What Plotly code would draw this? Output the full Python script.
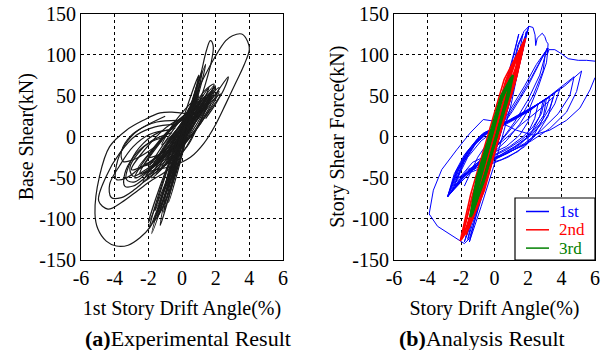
import plotly.graph_objects as go

# ---------------- DATA ----------------
x_ticks = [-6, -4, -2, 0, 2, 4, 6]
x_tick_labels = ["-6", "-4", "-2", "0", "2", "4", "6"]
y_ticks = [-150, -100, -50, 0, 50, 100, 150]
y_tick_labels = ["-150", "-100", "-50", "0", "50", "100", "150"]
legend_labels = ["1st", "2nd", "3rd"]

exp_big_pos = [(-2.3, -44), (-1.5, -40), (-0.5, -35), (0.5, -25), (1.3, -8), (2.0, 15), (2.6, 40),
               (3.2, 66), (3.7, 88), (4.0, 106), (3.9, 116), (3.55, 125), (3.0, 123), (2.6, 117),
               (1.9, 95), (1.3, 72), (0.6, 42), (0.0, 18), (-0.8, -5)]
exp_big_neg = [(0.3, 28), (-0.6, 30), (-1.3, 29), (-2.3, 20), (-3.3, 8), (-4.3, -12), (-4.9, -48),
               (-5.17, -93), (-5.0, -112), (-4.5, -127), (-3.9, -133), (-3.2, -132), (-2.5, -123),
               (-1.9, -110), (-1.3, -85), (-0.8, -60), (-0.2, -30)]
exp_peak = [[(0.6, 40), (1.1, 75), (1.45, 105), (1.68, 117), (1.85, 111), (1.75, 92), (1.5, 72),
             (1.2, 52), (0.8, 32)],
            [(1.2, 30), (2.0, 52), (2.75, 73), (2.5, 58), (2.0, 40), (1.4, 22)],
            [(0.9, 30), (1.6, 48), (2.2, 60), (1.9, 45), (1.3, 30)],
            [(0.7, 35), (1.3, 55), (1.9, 64), (1.6, 50), (1.0, 35)]]
exp_neg = [
    [(-0.5, 15), (-1.6, 12), (-2.7, 2), (-3.7, -20), (-4.5, -48), (-4.95, -78), (-4.4, -88),
     (-3.6, -80), (-2.6, -65), (-1.8, -53), (-1.0, -43), (-0.3, -30)],
    [(-0.8, 8), (-1.9, 3), (-2.9, -12), (-3.7, -35), (-4.3, -58), (-4.2, -74), (-3.6, -74),
     (-2.8, -64), (-2.0, -50), (-1.2, -38)],
    [(-1.0, 0), (-2.0, -8), (-2.9, -25), (-3.4, -45), (-3.4, -60), (-2.9, -60), (-2.2, -50),
     (-1.4, -35), (-0.8, -22)],
    [(-0.3, 20), (-1.5, 18), (-2.6, 8), (-3.4, -10), (-3.9, -35), (-3.9, -52), (-3.3, -50),
     (-2.6, -40), (-1.7, -28), (-0.8, -12)],
    [(-0.6, 5), (-1.8, -5), (-2.6, -20), (-3.1, -38), (-2.9, -48), (-2.3, -42), (-1.6, -32),
     (-0.9, -18)],
    [(-1.0, 25), (-2.0, 15), (-3.0, 2), (-3.6, -18), (-3.5, -30), (-2.9, -28), (-2.0, -18),
     (-1.2, -5)],
    [(-0.4, 10), (-1.4, 5), (-2.3, -8), (-3.0, -28), (-3.3, -52), (-2.8, -55), (-2.0, -42),
     (-1.1, -28)],
]
exp_core = [
    [(-2.0, -40), (-0.8, 0), (0.3, 30), (1.5, 50), (0.4, 10), (-0.8, -20), (-2.0, -40)],
    [(-1.5, -30), (-0.4, 6), (0.7, 35), (1.8, 55), (0.7, 19), (-0.4, -10), (-1.5, -30)],
    [(-2.5, -45), (-1.3, -5), (0.0, 24), (1.2, 40), (0.0, 0), (-1.3, -29), (-2.5, -45)],
    [(-1.0, -25), (0.0, 9), (1.0, 36), (2.0, 58), (1.0, 24), (0.0, -3), (-1.0, -25)],
    [(-2.2, -35), (-1.1, -2), (-0.1, 22), (1.0, 35), (-0.1, 2), (-1.1, -22), (-2.2, -35)],
    [(-1.8, -50), (-0.7, -8), (0.5, 23), (1.6, 45), (0.5, 3), (-0.7, -28), (-1.8, -50)],
    [(-1.2, -38), (-0.1, 1), (1.1, 32), (2.2, 55), (1.1, 16), (-0.1, -15), (-1.2, -38)],
    [(-2.8, -50), (-1.6, -11), (-0.4, 15), (0.8, 30), (-0.4, -9), (-1.6, -35), (-2.8, -50)],
    [(-0.8, -20), (-0.1, 9), (0.7, 31), (1.4, 48), (0.7, 19), (-0.1, -3), (-0.8, -20)],
    [(-2.0, -25), (-0.9, 3), (0.1, 22), (1.2, 30), (0.1, 2), (-0.9, -17), (-2.0, -25)],
    [(-1.5, -45), (-0.4, -1), (0.8, 34), (1.9, 62), (0.8, 18), (-0.4, -17), (-1.5, -45)],
    [(-3.0, -40), (-1.8, -6), (-0.7, 15), (0.5, 25), (-0.7, -9), (-1.8, -30), (-3.0, -40)],
    [(-1.0, -35), (-0.3, -2), (0.3, 23), (1.0, 40), (0.3, 7), (-0.3, -18), (-1.0, -35)],
    [(-2.3, -55), (-1.0, -13), (0.4, 18), (1.7, 40), (0.4, -2), (-1.0, -33), (-2.3, -55)],
    [(-0.5, -15), (0.3, 16), (1.2, 41), (2.0, 62), (1.2, 31), (0.3, 5), (-0.5, -15)],
    [(-0.3, -10), (0.3, 18), (1.0, 42), (1.6, 60), (1.0, 32), (0.3, 8), (-0.3, -10)],
    [(-0.6, -20), (0.4, 10), (1.3, 34), (2.3, 52), (1.3, 22), (0.4, -2), (-0.6, -20)],
    [(-1.2, -10), (-0.5, 16), (0.3, 36), (1.0, 50), (0.3, 24), (-0.5, 4), (-1.2, -10)],
    [(-1.7, -35), (-0.8, -6), (0.2, 20), (1.3, 44), (0.2, 6), (-0.8, -18), (-1.7, -35)],
    [(-0.9, -28), (-0.2, -4), (0.6, 22), (1.5, 42), (0.6, 12), (-0.2, -12), (-0.9, -28)],
    [(-2.6, -38), (-1.5, -10), (-0.5, 12), (0.6, 28), (-0.5, 0), (-1.5, -24), (-2.6, -38)],
    [(-1.3, -20), (-0.5, 4), (0.4, 26), (1.1, 44), (0.4, 14), (-0.5, -8), (-1.3, -20)],
    [(-0.7, -32), (0.0, -10), (0.8, 18), (1.7, 48), (0.8, 8), (0.0, -20), (-0.7, -32)],
    [(-2.1, -48), (-1.1, -20), (-0.1, 8), (0.9, 32), (-0.1, -4), (-1.1, -32), (-2.1, -48)],
    [(-1.4, -28), (-0.6, -2), (0.3, 20), (1.2, 38), (0.3, 10), (-0.6, -14), (-1.4, -28)],
    [(-0.4, -25), (0.3, -2), (1.0, 25), (1.8, 50), (1.0, 15), (0.3, -12), (-0.4, -25)],
]
exp_steep = [
    [(0.8, 50), (-0.2, -4), (-1.2, -58), (-1.95, -112), (-0.9, -58), (0.1, -4), (0.8, 50)],
    [(0.6, 40), (-0.2, -7), (-0.9, -53), (-1.5, -100), (-0.7, -53), (0.0, -7), (0.6, 40)],
    [(1.0, 60), (0.2, 9), (-0.5, -41), (-1.1, -92), (-0.3, -41), (0.4, 9), (1.0, 60)],
    [(0.5, 30), (-0.45, -15), (-1.3, -60), (-2.0, -105), (-1.05, -60), (-0.2, -15), (0.5, 30)],
    [(0.9, 55), (-0.05, 7), (-0.9, -42), (-1.6, -90), (-0.65, -42), (0.2, 7), (0.9, 55)],
    [(0.7, 45), (0.1, 3), (-0.4, -38), (-0.8, -80), (-0.2, -38), (0.3, 3), (0.7, 45)],
    [(0.4, 35), (-0.3, -13), (-0.85, -60), (-1.3, -108), (-0.6, -60), (-0.05, -13), (0.4, 35)],
    [(1.2, 80), (0.5, 37), (-0.05, -7), (-0.5, -50), (0.15, -7), (0.75, 37), (1.2, 80)],
    [(1.4, 88), (0.6, 43), (-0.1, -1), (-0.7, -45), (0.0, -1), (0.85, 43), (1.4, 88)],
    [(1.0, 75), (0.2, 30), (-0.45, -15), (-1.0, -60), (-0.25, -15), (0.45, 30), (1.0, 75)],
    [(0.3, 20), (-0.5, -26), (-1.2, -72), (-1.8, -118), (-1.0, -72), (-0.3, -26), (0.3, 20)],
    [(0.6, 38), (-0.1, -8), (-0.8, -55), (-1.4, -96), (-0.55, -55), (0.1, -8), (0.6, 38)],
    [(1.1, 68), (0.3, 22), (-0.35, -20), (-0.95, -70), (-0.15, -20), (0.5, 22), (1.1, 68)],
    [(0.2, 15), (-0.6, -32), (-1.25, -78), (-1.7, -104), (-0.95, -78), (-0.35, -32), (0.2, 15)],
]

# (b) Analysis result: story drift angle (%) vs story shear force (kN)
ana_1st_paths = [
    [(0.0, 0), (0.6, 45), (1.1, 85), (1.45, 112), (1.75, 128), (2.05, 134.5), (2.3, 133),
     (2.42, 124), (2.46, 111), (2.55, 120), (2.7, 123), (2.85, 126), (3.0, 122), (3.1, 116),
     (3.2, 113), (3.15, 100), (3.25, 106), (3.6, 106), (4.0, 101), (4.4, 95), (5.0, 93),
     (5.5, 93), (6.0, 92)],
    [(6.0, 72), (5.7, 57), (5.1, 35), (4.3, 20), (3.3, 8), (2.3, 2), (1.3, 8), (0.3, 18),
     (-0.67, 21), (-1.46, 4.5), (-2.26, -16), (-3.15, -40), (-3.65, -65), (-3.9, -94),
     (-3.4, -109), (-2.8, -117), (-2.2, -124), (-1.8, -130), (-1.5, -124), (-1.2, -104),
     (-0.6, -62), (0.0, -22), (0.6, 20), (1.2, 62), (1.6, 98), (2.0, 130)],
    [(-1.8, -128), (-1.0, -75), (0.0, -10), (1.0, 62), (1.6, 110), (2.05, 134), (1.5, 95),
     (0.6, 30), (-0.4, -40), (-1.2, -95), (-1.8, -128)],
    [(-1.6, -125), (-0.9, -80), (0.1, -15), (0.9, 45), (1.3, 85), (1.7, 125), (1.4, 112),
     (0.8, 60), (-0.2, -10), (-1.0, -70), (-1.6, -125)],
    [(-1.7, -122), (-1.05, -78), (-0.2, -15), (0.6, 45), (1.1, 95), (1.45, 125), (1.2, 105),
     (0.4, 45), (-0.4, -15), (-1.2, -75), (-1.7, -122)],
    [(-1.5, -128), (-0.8, -85), (0.2, -20), (1.0, 40), (1.5, 90), (1.9, 128), (1.7, 105),
     (1.1, 55), (0.0, -20), (-0.9, -80), (-1.5, -128)],
    [(-1.8, -60), (-1.0, -25), (0.0, 5), (0.8, 25), (1.5, 48), (2.2, 72), (2.8, 95), (3.2, 108),
     (3.1, 90), (2.6, 60), (2.1, 35), (1.5, 15), (0.7, -5), (-0.2, -22), (-1.0, -35)],
    [(-1.2, -40), (0.0, 0), (1.0, 35), (1.8, 62), (2.5, 88), (3.05, 104), (2.9, 80), (2.3, 50),
     (1.6, 25), (0.6, 0), (-0.5, -25)],
    [(-0.8, -30), (0.2, 5), (1.1, 32), (2.0, 62), (2.7, 90), (3.15, 108), (2.7, 75), (2.0, 45),
     (1.2, 18), (0.2, -10)],
    [(-2.8, -73), (-2.4, -45), (-1.8, -22), (-1.0, -2), (0.0, 10), (1.5, 25), (3.0, 45),
     (4.2, 62), (5.2, 80), (4.9, 55), (4.3, 30), (3.3, 10), (2.2, -5), (1.0, -18), (0.0, -28),
     (-1.0, -33), (-2.0, -52), (-2.8, -73)],
    [(-2.8, -73), (-2.3, -42), (-1.6, -18), (-0.8, 2), (0.2, 12), (1.5, 25), (3.0, 45),
     (4.75, 73), (4.5, 50), (3.8, 28), (2.8, 8), (1.8, -8), (0.8, -20), (-0.2, -29),
     (-1.2, -36), (-2.1, -54), (-2.8, -73)],
    [(-2.8, -73), (-2.2, -40), (-1.5, -15), (-0.7, 4), (0.3, 14), (1.5, 26), (2.6, 40), (3.6, 53),
     (3.3, 35), (2.7, 15), (2.0, 0), (1.2, -12), (0.2, -24), (-0.9, -32), (-1.9, -50), (-2.8, -73)],
    [(-2.6, -68), (-2.1, -38), (-1.4, -13), (-0.6, 5), (0.4, 14), (1.5, 27), (2.5, 38), (3.3, 48),
     (3.0, 28), (2.4, 10), (1.6, -4), (0.7, -16), (-0.4, -27), (-1.5, -40), (-2.6, -68)],
    [(-2.7, -70), (-2.2, -42), (-1.6, -20), (-0.9, -2), (0.0, 10), (1.2, 22), (2.2, 34), (3.0, 45),
     (2.8, 28), (2.3, 12), (1.7, 0), (0.9, -12), (0.0, -22), (-1.2, -34), (-2.7, -70)],
    [(-2.5, -65), (-2.0, -36), (-1.3, -12), (-0.5, 5), (0.4, 15), (1.5, 28), (2.6, 40), (2.4, 22),
     (2.0, 5), (2.0, -8), (1.3, -15), (0.3, -24), (-0.8, -31), (-2.5, -65)],
    [(-2.3, -55), (-1.8, -30), (-1.1, -8), (-0.2, 8), (0.9, 20), (2.2, 35), (2.0, 18), (1.5, 2),
     (0.7, -12), (-0.3, -22), (-1.3, -31), (-2.3, -55)],
    [(-2.8, -73), (-2.3, -44), (-1.7, -20), (-0.9, 0), (0.2, 12), (1.6, 26), (2.8, 42), (3.9, 58),
     (3.6, 40), (3.0, 20), (2.2, 2), (1.4, -10), (0.4, -22), (-0.7, -30), (-1.8, -48), (-2.8, -73)],
    [(-2.8, -73), (-2.0, -50), (-1.2, -35), (-0.4, -20), (0.5, -5), (1.6, 15), (2.8, 35),
     (3.5, 48), (3.2, 25), (2.6, 5), (1.8, -12), (0.8, -25), (-0.3, -34), (-1.5, -44), (-2.8, -73)],
    [(-2.4, -60), (-1.9, -33), (-1.2, -10), (-0.3, 8), (0.8, 18), (2.0, 30), (2.9, 44), (2.7, 25),
     (2.2, 5), (1.5, -10), (0.5, -22), (-0.6, -30), (-1.6, -40), (-2.4, -60)],
    [(-2.2, -50), (-1.6, -25), (-0.8, -5), (0.2, 10), (1.3, 22), (2.5, 38), (3.1, 47), (2.9, 22),
     (2.3, 0), (1.4, -18), (0.4, -28), (-0.8, -35), (-2.2, -50)],
]
ana_2nd_paths = [
    [(-2.05, -127), (-1.42, -70), (-0.42, 0), (0.58, 70), (1.86, 120), (1.28, 70), (0.28, 0),
     (-0.72, -70), (-2.05, -127)],
    [(-1.95, -124), (-1.3, -70), (-0.3, 0), (0.7, 70), (1.75, 116), (1.2, 70), (0.2, 0),
     (-0.8, -70), (-1.95, -124)],
    [(-1.8, -118), (-1.45, -95), (-1.2, -70), (-0.2, 0), (0.8, 70), (1.6, 110), (1.1, 70),
     (0.1, 0), (-0.9, -70), (-1.8, -118)],
    [(-1.6, -112), (-1.0, -70), (-0.1, 0), (0.9, 70), (1.5, 105), (1.3, 85), (1.0, 70),
     (0.0, 0), (-0.95, -65), (-1.6, -112)],
    [(-2.0, -126), (-1.35, -75), (-0.35, -5), (0.65, 65), (1.8, 118), (1.35, 75), (0.35, 5),
     (-0.6, -65), (-1.5, -110), (-2.0, -126)],
    [(-1.7, -120), (-0.95, -72), (0.05, -2), (1.0, 65), (1.7, 112), (1.05, 62), (0.0, -8),
     (-1.0, -80), (-1.7, -120)],
]
ana_3rd_paths = [
    [(-1.45, -98), (-1.05, -50), (-0.32, 0), (0.4, 50), (1.1, 75), (0.85, 50), (0.12, 0),
     (-0.6, -50), (-1.45, -98)],
    [(-1.35, -95), (-0.95, -50), (-0.25, 0), (0.45, 50), (1.05, 72), (0.8, 50), (0.1, 0),
     (-0.62, -50), (-1.35, -95)],
    [(-1.2, -85), (-0.9, -55), (-0.2, -2), (0.5, 50), (0.95, 68), (0.7, 45), (0.05, -5),
     (-0.65, -55), (-1.2, -85)],
    [(-1.4, -97), (-1.0, -60), (-0.3, -8), (0.35, 42), (1.0, 72), (0.9, 60), (0.2, 8),
     (-0.5, -42), (-1.4, -97)],
]

# ---------------- STYLE ----------------
FONT = "Liberation Serif"
BLUE, RED, GREEN = "#0000ff", "#ff0000", "#008000"
W, H = 613, 350


def fx(px):  # window pixel -> paper x
    return px / W


def fy(py):  # window pixel -> paper y
    return 1 - py / H


def join(loops):
    xs, ys = [], []
    for lp in loops:
        for px, py in lp:
            xs.append(px)
            ys.append(py)
        xs.append(None)
        ys.append(None)
    return xs, ys


fig = go.Figure()

exp_groups = [exp_core, exp_steep, exp_neg, exp_peak, [exp_big_pos], [exp_big_neg]]
for grp in exp_groups:
    gx, gy = join(grp)
    fig.add_trace(go.Scatter(x=gx, y=gy, mode="lines", xaxis="x", yaxis="y",
                             line=dict(color="#1a1a1a", width=1.2, shape="spline", smoothing=1.0),
                             hoverinfo="skip", showlegend=False))

for paths, col, wd in [(ana_1st_paths, BLUE, 1), (ana_2nd_paths, RED, 1.6), (ana_3rd_paths, GREEN, 2.4)]:
    gx, gy = join(paths)
    fig.add_trace(go.Scatter(x=gx, y=gy, mode="lines", xaxis="x2", yaxis="y2",
                             line=dict(color=col, width=wd), hoverinfo="skip", showlegend=False))

axis_common = dict(showgrid=True, gridcolor="black", griddash="dot", gridwidth=1,
                   showline=True, linecolor="black", linewidth=1.2, mirror=True,
                   zeroline=False, ticks="", automargin=False, ticklabeloverflow="allow",
                   tickfont=dict(family=FONT, size=20, color="black"))
xax = dict(range=[-6, 6], tickmode="array", tickvals=x_ticks, ticktext=x_tick_labels, **axis_common)
yax = dict(range=[-150, 150], tickmode="array", tickvals=y_ticks, ticktext=y_tick_labels, **axis_common)

xdom1 = [fx(81), fx(283)]
xdom2 = [fx(394), fx(595)]
ydom = [fy(260), fy(13.5)]
tfont = dict(family=FONT, size=20, color="black")

fig.update_layout(
    width=W, height=H, margin=dict(l=0, r=0, t=0, b=0),
    paper_bgcolor="white", plot_bgcolor="white",
    xaxis=dict(domain=xdom1, anchor="y",
               title=dict(text="1st Story Drift Angle(%)", font=tfont, standoff=12), **xax),
    yaxis=dict(domain=ydom, anchor="x",
               title=dict(text="Base Shear(kN)", font=tfont, standoff=0), **yax),
    xaxis2=dict(domain=xdom2, anchor="y2",
                title=dict(text="Story Drift Angle(%)", font=tfont, standoff=12), **xax),
    yaxis2=dict(domain=ydom, anchor="x2",
                title=dict(text="Story Shear Force(kN)", font=tfont, standoff=2), **yax),
)

# manual legend box for (b)
fig.add_shape(type="rect", xref="paper", yref="paper",
              x0=fx(515), x1=fx(595), y0=fy(260), y1=fy(198),
              line=dict(color="black", width=1.2), fillcolor="white", layer="above")
for i, (lab, col) in enumerate(zip(legend_labels, [BLUE, RED, GREEN])):
    yy = fy(211.5 + i * 18.3)
    fig.add_shape(type="line", xref="paper", yref="paper", x0=fx(526), x1=fx(549), y0=yy, y1=yy,
                  line=dict(color=col, width=1.5), layer="above")
    fig.add_annotation(x=fx(557), y=yy, xref="paper", yref="paper", text=lab, showarrow=False,
                       xanchor="left", yanchor="middle", font=dict(family=FONT, size=17, color=col))

# captions
fig.add_annotation(x=fx(188), y=fy(338), xref="paper", yref="paper",
                   text="<b>(a)</b>Experimental Result", showarrow=False, xanchor="center", yanchor="middle",
                   font=dict(family=FONT, size=22, color="black"))
fig.add_annotation(x=fx(482), y=fy(338), xref="paper", yref="paper",
                   text="<b>(b)</b>Analysis Result", showarrow=False, xanchor="center", yanchor="middle",
                   font=dict(family=FONT, size=22, color="black"))

# the default page body has an 8px margin; remove it so the 613x350 figure fills the window
fig.write_html("out.html", config={"displayModeBar": False},
               post_script="document.body.style.margin='0px';")
